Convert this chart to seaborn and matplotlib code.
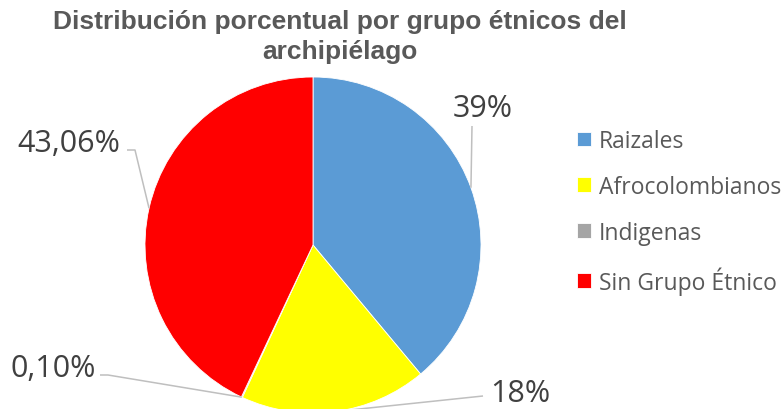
import matplotlib
matplotlib.use("Agg")
import matplotlib.pyplot as plt
import seaborn as sns
import numpy as np

# Data
groups = ['Raizales', 'Afrocolombianos', 'Indigenas', 'Sin Grupo Étnico']
shares = [39.0, 18.0, 0.10, 43.06]
share_labels = ['39%', '18%', '0,10%', '43,06%']

sns.set_theme(style="white")
plt.rcParams['font.family'] = ['Open Sans', 'DejaVu Sans']

colors = ['#5B9BD5', '#FFFF00', '#A5A5A5', '#FF0000']

W, H = 782, 410
fig = plt.figure(figsize=(W / 100, H / 100), dpi=100)
ax = fig.add_axes([0, 0, 1, 1])

# pie in pixel coordinates (y up)
cx, cy, r = 313, H - 246, 168
wedges, _ = ax.pie(shares, colors=colors, startangle=90, counterclock=False,
                   center=(cx, cy), radius=r,
                   wedgeprops=dict(edgecolor='white', linewidth=0.6))
ax.set_xlim(0, W)
ax.set_ylim(0, H)
ax.set_aspect('auto')
ax.axis('off')

# label placement: left x, baseline y (screen px), leader elbow points
label_layout = [
    (453, 117, [(472, 127)]),
    (490, 402, [(483, 397)]),
    (10, 377, [(100, 376), (108, 376)]),
    (17, 152, [(127, 151), (135, 151)]),
]
for w, txt, (tx, ty, pts) in zip(wedges, share_labels, label_layout):
    mid = np.deg2rad((w.theta1 + w.theta2) / 2)
    ex, ey = cx + r * np.cos(mid), cy + r * np.sin(mid)
    xs = [p[0] for p in pts] + [ex]
    ys = [H - p[1] for p in pts] + [ey]
    ax.plot(xs, ys, color='#BFBFBF', lw=1.1, solid_capstyle='butt')
    ax.text(tx, H - ty, txt, fontsize=22, color='#404040', ha='left', va='baseline')

ax.text(340, H - 10, 'Distribución porcentual por grupo étnicos del\narchipiélago',
        fontsize=19, fontweight='bold', color='#595959', ha='center', va='top',
        family=['Liberation Sans', 'DejaVu Sans'], linespacing=1.3)

leg = ax.legend(wedges, groups, loc='upper left', bbox_to_anchor=(577 / W, 1 - 130 / H),
                frameon=False, fontsize=16.5, handlelength=0.6, handleheight=0.6,
                handletextpad=0.35, labelspacing=0.95, borderpad=0, borderaxespad=0,
                labelcolor='#595959')

fig.savefig('out.png', dpi=100)
